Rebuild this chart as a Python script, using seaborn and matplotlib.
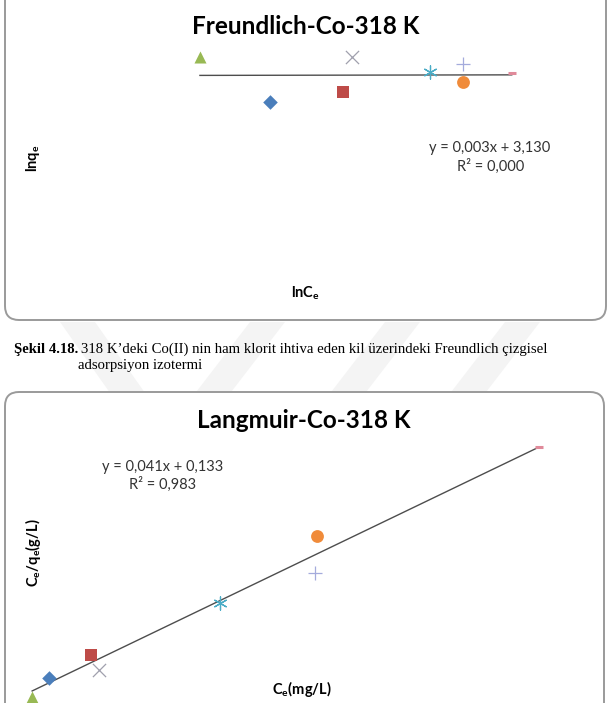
import numpy as np
import pandas as pd
import matplotlib
matplotlib.use('Agg')
import matplotlib.pyplot as plt
from matplotlib.patches import FancyBboxPatch
import seaborn as sns

# series order as in the excel sheet: diamond, square, triangle, x, asterisk, circle, plus, dash
series = ['s1', 's2', 's3', 's4', 's5', 's6', 's7', 's8']

# Freundlich (lnCe, lnqe)
ln_ce = [1.50, 2.35, 0.69, 2.45, 3.35, 3.73, 3.73, 4.30]
ln_qe = [2.60, 2.80, 3.50, 3.50, 3.20, 3.00, 3.36, 3.18]
fr_slope, fr_int, fr_r2 = 0.003, 3.130, 0.000

# Langmuir (Ce, Ce/qe)
ce = [4.4, 10.3, 2.0, 11.5, 28.6, 42.3, 42.0, 73.7]
ce_qe = [0.371, 0.648, 0.142, 0.467, 1.275, 2.087, 1.636, 3.154]
la_slope, la_int, la_r2 = 0.041, 0.133, 0.983

markers = ['D', 's', '^', 'x', (6, 2, 0), 'o', '+', '_']
colors = ['#4a7ebb', '#be4b48', '#98b954', '#a0a0ae', '#4bacc6', '#f08b3a', '#a4abdc', '#e08a9a']

W, H = 612, 703
fig = plt.figure(figsize=(W / 100, H / 100), dpi=100)

# page layer in pixel coordinates
bg = fig.add_axes([0, 0, 1, 1])
bg.set_xlim(0, W)
bg.set_ylim(H, 0)
bg.axis('off')

# faint watermark stripes (thesis page logo)
wm = '#f4f4f4'
bg.fill([60, 95, 150, 115], [322, 322, 400, 400], color=wm, zorder=0, lw=0)
for x0 in [250, 385, 505]:
    bg.fill([x0, x0 + 35, x0 - 25, x0 - 60], [322, 322, 400, 400], color=wm, zorder=0, lw=0)

box_kw = dict(boxstyle='round,pad=0,rounding_size=14', fc='white', ec='#9a9a9a', lw=1.4, zorder=1)
bg.add_patch(FancyBboxPatch((5, -20), 601, 340, **box_kw))
bg.add_patch(FancyBboxPatch((5, 392), 599, 340, **box_kw))

title_font = dict(family='Lato', weight='bold', size=17.5)
bg.text(306, 26, 'Freundlich-Co-318 K', ha='center', va='center', **title_font, zorder=3)
bg.text(304, 421, 'Langmuir-Co-318 K', ha='center', va='center', **title_font, zorder=3)

lab_font = dict(family='Lato', weight='bold', size=10.5)
bg.text(33, 158, r'lnq$_{\mathregular{e}}$', rotation=90, ha='center', va='center', **lab_font, zorder=3)
bg.text(305, 293, r'lnC$_{\mathregular{e}}$', ha='center', va='center', **lab_font, zorder=3)
bg.text(33, 553, r'C$_{\mathregular{e}}$/q$_{\mathregular{e}}$(g/L)', rotation=90, ha='center', va='center', **lab_font, zorder=3)
bg.text(302, 689, r'C$_{\mathregular{e}}$(mg/L)', ha='center', va='center', **lab_font, zorder=3)

eq_font = dict(family='Lato', size=10.5, color='#333333')
bg.text(490, 148, f'y = {fr_slope:.3f}x + {fr_int:.3f}'.replace('.', ','), ha='center', va='center', **eq_font, zorder=3)
bg.text(491, 166, f'R² = {fr_r2:.3f}'.replace('.', ','), ha='center', va='center', **eq_font, zorder=3)
bg.text(163, 467, f'y = {la_slope:.3f}x + {la_int:.3f}'.replace('.', ','), ha='center', va='center', **eq_font, zorder=3)
bg.text(163, 484, f'R² = {la_r2:.3f}'.replace('.', ','), ha='center', va='center', **eq_font, zorder=3)

# caption
cap_font = dict(family='Liberation Serif', size=10.6)
t = bg.text(14, 349, 'Şekil 4.18.', ha='left', va='center', weight='bold', **cap_font, zorder=3)
fig.canvas.draw()
bb = t.get_window_extent()
bg.text(14 + bb.width + 3, 349, "318 K’deki Co(II) nin ham klorit ihtiva eden kil üzerindeki Freundlich çizgisel",
        ha='left', va='center', **cap_font, zorder=3)
bg.text(78, 366, 'adsorpsiyon izotermi', ha='left', va='center', **cap_font, zorder=3)


def px_axes(left, top, right, bottom):
    return fig.add_axes([left / W, 1 - bottom / H, (right - left) / W, (bottom - top) / H])


def draw(ax, xs, ys, slope, inter):
    df = pd.DataFrame({'x': xs, 'y': ys, 'series': series})
    xl = np.array([min(xs), max(xs)])
    ax.plot(xl, slope * xl + inter, color='#4d4d4d', lw=1.0, zorder=2)
    for i, row in df.iterrows():
        m = markers[i]
        filled = m in ['D', 's', '^', 'o']
        size = {'D': 55, 's': 70, '^': 75, 'o': 85}.get(m, 90)
        if m == '_':
            size = 40
        if filled:
            sns.scatterplot(x=[row.x], y=[row.y], ax=ax, marker=m, s=size, color=colors[i],
                            edgecolor=colors[i], linewidth=0, zorder=3, clip_on=False)
        else:
            sns.scatterplot(x=[row.x], y=[row.y], ax=ax, marker=m, s=size, color=colors[i],
                            linewidth=2.2 if m == '_' else 0.9, zorder=3, clip_on=False)
    ax.axis('off')


ax1 = px_axes(60, 40, 580, 300)
draw(ax1, ln_ce, ln_qe, fr_slope, fr_int)
ax1.set_xlim(-0.93, 5.09)
ax1.set_ylim(-1.36, 3.84)

ax2 = px_axes(18, 430, 590, 708.8)
draw(ax2, ce, ce_qe, la_slope, la_int)
ax2.set_xlim(0, 80.9)
ax2.set_ylim(0, 3.36)

fig.savefig('out.png', dpi=100)
